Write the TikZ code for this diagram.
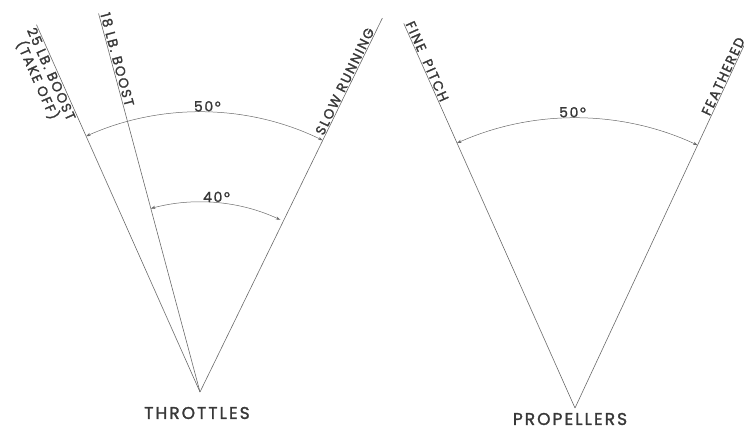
\documentclass[tikz,border=0pt]{standalone}
\usepackage{fontspec}
\usetikzlibrary{arrows.meta}
\newfontfamily\labfont[LetterSpace=12,FakeBold=1.6]{Poppins}
\definecolor{ink}{HTML}{383838}
\definecolor{linegray}{HTML}{6A6A6A}
\begin{document}
\begin{tikzpicture}[x=1pt,y=1pt,
  ray/.style={draw=linegray, line width=0.6pt},
  dim/.style={draw=linegray, line width=0.5pt,
    {Stealth[length=4.5pt,width=3.2pt]}-{Stealth[length=4.5pt,width=3.2pt]}},
  raylabel/.style={font=\labfont\fontsize{13.5}{15}\selectfont, text=ink, inner sep=1pt},
  anglabel/.style={font=\labfont\fontsize{14}{15}\selectfont, text=ink, inner sep=1.5pt},
  sitelabel/.style={font=\labfont\fontsize{17}{19}\selectfont, text=ink, inner sep=0pt}]
\useasboundingbox (0,0) rectangle (744,430);
\clip (0,0) rectangle (744,430);

% apexes
\coordinate (T) at (200,38);
\coordinate (P) at (575,22);

% throttle rays
\coordinate (t25) at ([shift={(114:402)}]T);
\coordinate (t18) at ([shift={(105:392)}]T);
\coordinate (tsr) at ([shift={(64:416)}]T);
\draw[ray] (T) -- (t25);
\draw[ray] (T) -- (t18);
\draw[ray] (T) -- (tsr);

% propeller rays
\coordinate (tfp) at ([shift={(114:421)}]P);
\coordinate (tfe) at ([shift={(65:460)}]P);
\draw[ray] (P) -- (tfp);
\draw[ray] (P) -- (tfe);

% angle arcs
\coordinate (a50s) at ([shift={(114:280)}]T);
\draw[dim] (a50s) arc[start angle=114, end angle=64, radius=280];
\coordinate (a40s) at ([shift={(105:190)}]T);
\draw[dim] (a40s) arc[start angle=105, end angle=65, radius=190];
\coordinate (p50s) at ([shift={(114:290)}]P);
\draw[dim] (p50s) arc[start angle=114, end angle=65, radius=290];

% angle labels
\node[anglabel, anchor=south] (l50t) at ([shift={(88.5:279)}]T) {50°};
\node[anglabel, anchor=south] (l40t) at ([shift={(85:189)}]T) {40°};
\node[anglabel, anchor=south] (l50p) at ([shift={(90.5:289)}]P) {50°};

% ray labels
\node[raylabel, rotate=-66, anchor=north west, align=center] (l25) at (t25) {25 LB. BOOST\\(TAKE OFF)};
\node[raylabel, rotate=-75, anchor=south west] (l18) at (t18) {18 LB. BOOST};
\node[raylabel, rotate=64, anchor=south west] (lsr) at ([shift={(64:283)}]T) {SLOW RUNNING};
\node[raylabel, rotate=-66, anchor=south west] (lfp) at (tfp) {FINE\hspace{10pt}PITCH};
\node[raylabel, rotate=65, anchor=south west] (lfe) at ([shift={(65:320)}]P) {FEATHERED};

% site labels
\node[sitelabel] (thr) at (197,17) {THROTTLES};
\node[sitelabel] (prop) at (570,11) {PROPELLERS};
\end{tikzpicture}
\end{document}
